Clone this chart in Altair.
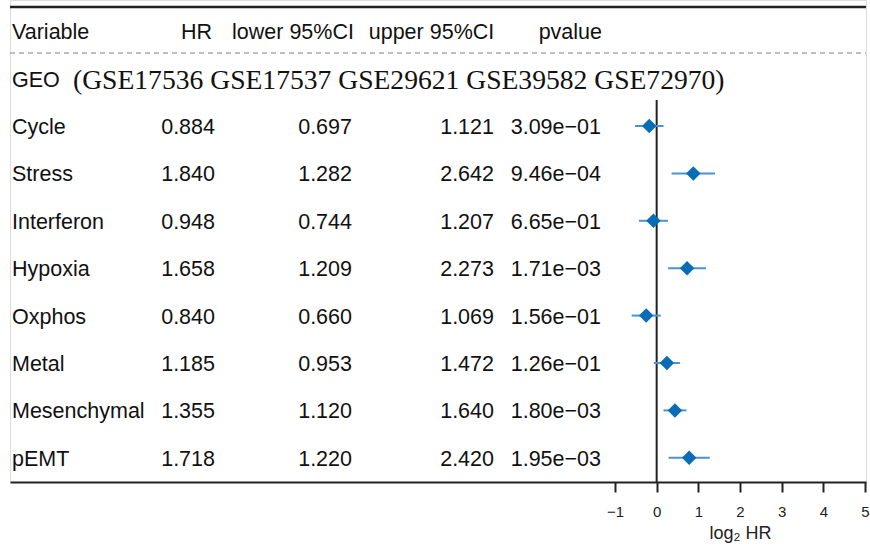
import altair as alt
import numpy as np
import pandas as pd

variables = ["Cycle", "Stress", "Interferon", "Hypoxia", "Oxphos", "Metal", "Mesenchymal", "pEMT"]
hr = [0.884, 1.840, 0.948, 1.658, 0.840, 1.185, 1.355, 1.718]
lower = [0.697, 1.282, 0.744, 1.209, 0.660, 0.953, 1.120, 1.220]
upper = [1.121, 2.642, 1.207, 2.273, 1.069, 1.472, 1.640, 2.420]
pvalue = ["3.09e\u221201", "9.46e\u221204", "6.65e\u221201", "1.71e\u221203",
          "1.56e\u221201", "1.26e\u221201", "1.80e\u221203", "1.95e\u221203"]
headers = ["Variable", "HR", "lower 95%CI", "upper 95%CI", "pvalue"]
group_label = "GEO"
group_detail = "(GSE17536 GSE17537 GSE29621 GSE39582 GSE72970)"
x_ticks = [-1, 0, 1, 2, 3, 4, 5]

df = pd.DataFrame({
    "row": list(range(len(variables))),
    "variable": variables,
    "hr": hr, "lower": lower, "upper": upper, "pvalue": pvalue,
})
df["hr_s"] = [f"{v:.3f}" for v in hr]
df["lo_s"] = [f"{v:.3f}" for v in lower]
df["up_s"] = [f"{v:.3f}" for v in upper]
df["lhr"] = np.log2(df["hr"])
df["llo"] = np.log2(df["lower"])
df["lup"] = np.log2(df["upper"])

SANS = "Liberation Sans"
SERIF = "Liberation Serif"
FS = 21.5
DY = 2

xscale = alt.Scale(domain=[-15.52, 5.024], nice=False, zero=False)
yscale = alt.Scale(domain=[-2.658, 7.511], reverse=True, nice=False, zero=False)

base = alt.Chart(df)
Y = alt.Y("row:Q", scale=yscale, axis=None)

def col(field, xpix, align):
    return base.mark_text(font=SANS, fontSize=FS, align=align, baseline="middle", color="#111", dy=DY).encode(
        x=alt.value(xpix), y=Y, text=f"{field}:N")

hdr = pd.DataFrame({"h": headers, "row": [-2] * 5,
                    "xp": [2, 202, 283, 421.5, 592],
                    "al": ["left", "right", "center", "center", "right"]})
hdr_layers = [
    alt.Chart(hdr.iloc[[i]]).mark_text(font=SANS, fontSize=FS, align=hdr["al"][i], baseline="middle",
                                       color="#111", dy=DY)
    .encode(x=alt.value(float(hdr["xp"][i])), y=alt.Y("row:Q", scale=yscale, axis=None), text="h:N")
    for i in range(len(headers))
]

grp = pd.DataFrame({"row": [-1], "a": [group_label], "b": [group_detail]})
geo1 = alt.Chart(grp).mark_text(font=SANS, fontSize=FS, align="left", baseline="middle", color="#111", dy=DY).encode(
    x=alt.value(2), y=alt.Y("row:Q", scale=yscale, axis=None), text="a:N")
geo2 = alt.Chart(grp).mark_text(font=SERIF, fontSize=27.6, align="left", baseline="middle", color="#111", dy=DY).encode(
    x=alt.value(63), y=alt.Y("row:Q", scale=yscale, axis=None), text="b:N")

lines = pd.DataFrame({"y": [-2.509], "yd": [-1.539]})
top_rule = alt.Chart(lines).mark_rule(color="#222", strokeWidth=2.5).encode(
    x=alt.value(0), x2=alt.value(856), y=alt.Y("y:Q", scale=yscale, axis=None))
dash_rule = alt.Chart(lines).mark_rule(color="#aaa", strokeWidth=1.5, strokeDash=[5, 4]).encode(
    x=alt.value(0), x2=alt.value(856), y=alt.Y("yd:Q", scale=yscale, axis=None))

vline = alt.Chart(pd.DataFrame({"x": [0], "y1": [-0.548], "y2": [7.511]})).mark_rule(color="#222", strokeWidth=2).encode(
    x=alt.X("x:Q", scale=xscale,
            axis=alt.Axis(values=x_ticks, title="log\u2082 HR", grid=False, domainColor="#222", domainWidth=2,
                          tickColor="#222", tickWidth=2, tickSize=10, labelFont=SANS, labelFontSize=15,
                          labelColor="#222", labelPadding=12, titleFont=SANS, titleFontSize=18,
                          titleFontWeight="normal", titleColor="#222", titleX=730, titleY=56,
                          titleAlign="center", titleBaseline="alphabetic")),
    y=alt.Y("y1:Q", scale=yscale, axis=None), y2="y2:Q")

ci = base.mark_rule(color="#4a92d2", strokeWidth=2).encode(
    x=alt.X("llo:Q", scale=xscale), x2="lup:Q", y=Y)
pts = base.mark_point(shape="diamond", filled=True, size=210, color="#0a6cb6", opacity=1).encode(
    x=alt.X("lhr:Q", scale=xscale), y=Y)

chart = alt.layer(
    top_rule, dash_rule, *hdr_layers, geo1, geo2,
    col("variable", 2, "left"), col("hr_s", 205, "right"), col("lo_s", 342, "right"),
    col("up_s", 484, "right"), col("pvalue", 591, "right"),
    vline, ci, pts,
).properties(
    width=856, height=482,
    autosize=alt.AutoSizeParams(type="none"),
    padding={"left": 10, "right": 4, "top": 0, "bottom": 63},
).configure_view(stroke=None).configure(background="white")

chart.save("out.html", embed_options={"renderer": "svg", "actions": False})
